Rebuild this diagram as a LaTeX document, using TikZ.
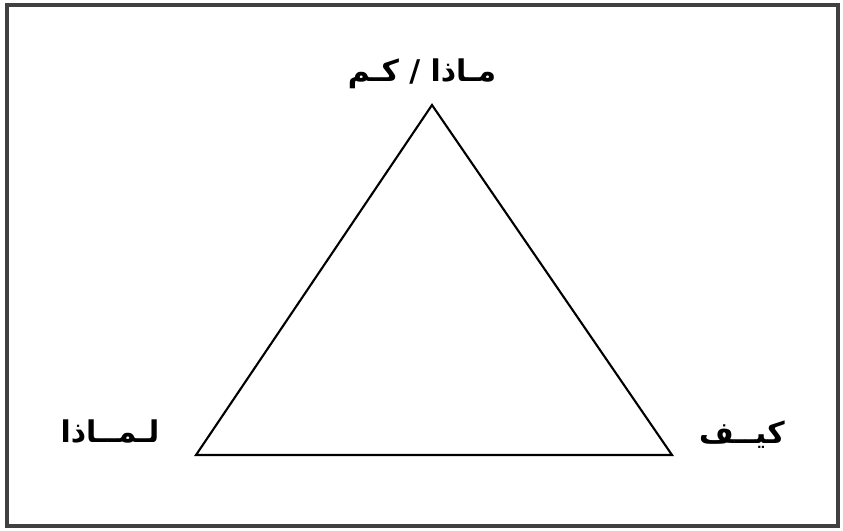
\documentclass[tikz,border=0pt]{standalone}
\usepackage{fontspec}
\newfontfamily\arabicfont[Script=Arabic]{DejaVu Sans}
\TeXXeTstate=1
\usetikzlibrary{arrows, backgrounds}

\tikzset{
  lbl/.style={font=\arabicfont\bfseries\fontsize{8.5}{10}\selectfont, inner sep=1pt},
}

\begin{document}
\begin{tikzpicture}[scale=1]

\useasboundingbox (0,0) rectangle (8.43,5.30);

\draw [line width=0.9pt, black!75] (0.07,0.04) rectangle (8.38,5.25);

\coordinate (top) at (4.32,4.25);
\coordinate (bl) at (1.96,0.75);
\coordinate (br) at (6.72,0.75);

\draw [line width=0.6pt] (top) -- (bl) -- (br) -- cycle;

\node [lbl] (what) at (4.22,4.56) {\beginR مـاذا / كـم\endR};
\node [lbl] (why) at (1.10,0.98) {\beginR لـمــاذا\endR};
\node [lbl] (how) at (7.42,0.95) {\beginR كيــف\endR};

\end{tikzpicture}
\end{document}
